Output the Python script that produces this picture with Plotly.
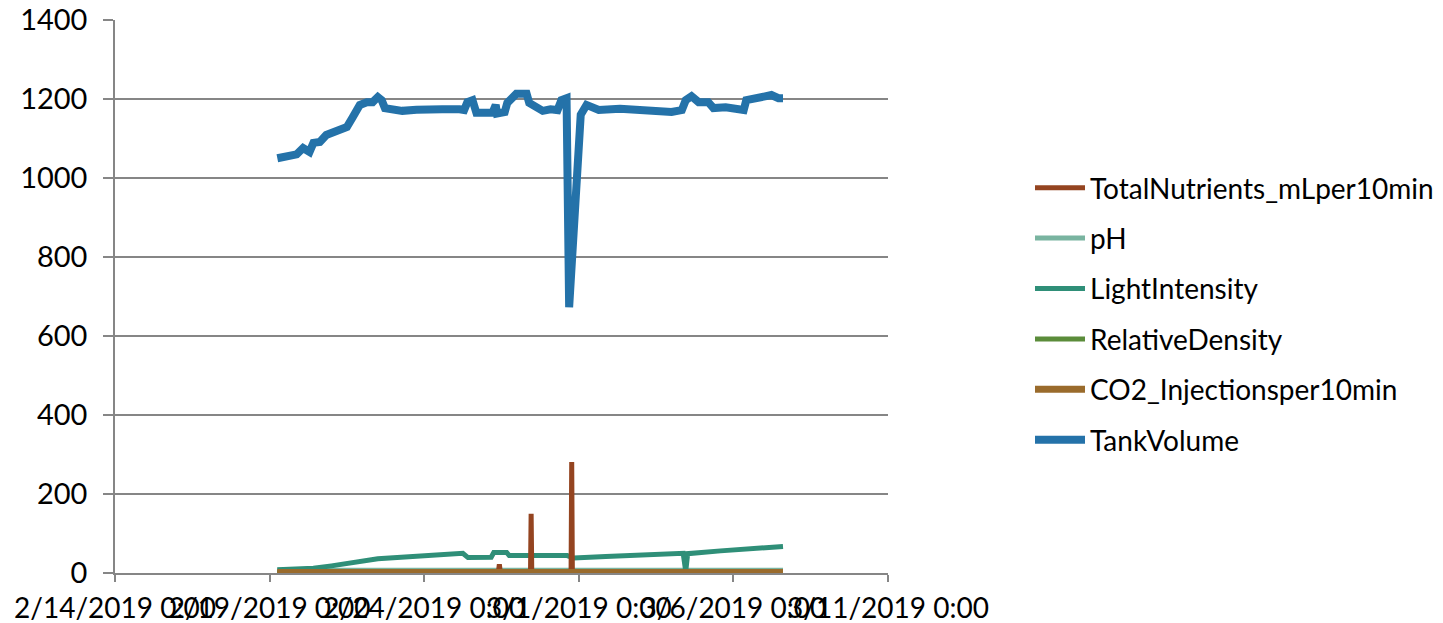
import plotly.graph_objects as go

# ---------------- data ----------------
tank_time = [
    "2019-02-19 06:00", "2019-02-19 11:00", "2019-02-19 16:00", "2019-02-19 21:00",
    "2019-02-20 02:00", "2019-02-20 07:00", "2019-02-20 10:00", "2019-02-20 15:00",
    "2019-02-20 20:00", "2019-02-21 01:00", "2019-02-21 06:30", "2019-02-21 12:00",
    "2019-02-21 16:30", "2019-02-21 22:00", "2019-02-22 03:30", "2019-02-22 08:00",
    "2019-02-22 12:00", "2019-02-22 15:00", "2019-02-22 17:30", "2019-02-22 23:30",
    "2019-02-23 07:00", "2019-02-23 18:00", "2019-02-24 02:00", "2019-02-24 14:00",
    "2019-02-25 03:30", "2019-02-25 07:00", "2019-02-25 09:30", "2019-02-25 13:30",
    "2019-02-25 16:30", "2019-02-25 23:00", "2019-02-26 05:00", "2019-02-26 07:30",
    "2019-02-26 08:30", "2019-02-26 14:30", "2019-02-26 16:30", "2019-02-26 23:30",
    "2019-02-27 07:30", "2019-02-27 09:30", "2019-02-27 15:00", "2019-02-27 20:00",
    "2019-02-28 02:00", "2019-02-28 07:30", "2019-02-28 10:30", "2019-02-28 14:30",
    "2019-02-28 16:30", "2019-03-01 01:30", "2019-03-01 06:00", "2019-03-01 15:30",
    "2019-03-02 08:00", "2019-03-03 01:00", "2019-03-03 14:00", "2019-03-04 00:00",
    "2019-03-04 08:00", "2019-03-04 11:00", "2019-03-04 15:30", "2019-03-04 21:00",
    "2019-03-05 04:30", "2019-03-05 08:30", "2019-03-05 18:00", "2019-03-06 04:00",
    "2019-03-06 08:00", "2019-03-06 10:00", "2019-03-06 19:30", "2019-03-07 05:30",
    "2019-03-07 11:00", "2019-03-07 14:30",
]
tank_volume = [
    1050, 1052, 1053, 1060,
    1076, 1066, 1089, 1091,
    1109, 1115, 1127, 1129,
    1154, 1185, 1192, 1192,
    1205, 1197, 1177, 1172,
    1170, 1173, 1172, 1174,
    1174, 1172, 1192, 1197,
    1165, 1167, 1165, 1185,
    1163, 1167, 1190, 1213,
    1213, 1190, 1177, 1170,
    1174, 1172, 1197, 1202,
    673, 1160, 1185, 1172,
    1175, 1172, 1170, 1167,
    1172, 1197, 1207, 1192,
    1192, 1177, 1179, 1177,
    1172, 1197, 1205, 1210,
    1202, 1202,
]

light_time = [
    "2019-02-19 06:00", "2019-02-20 10:00", "2019-02-21 00:00", "2019-02-22 12:00",
    "2019-02-25 06:00", "2019-02-25 10:00", "2019-02-26 04:00", "2019-02-26 06:00",
    "2019-02-26 16:00", "2019-02-26 18:00", "2019-02-28 15:00", "2019-02-28 20:00",
    "2019-03-01 21:00", "2019-03-04 09:00", "2019-03-04 11:00", "2019-03-04 12:30",
    "2019-03-05 14:00", "2019-03-07 14:30",
]
light_intensity = [
    8, 12, 18, 36,
    50, 39, 40, 52,
    52, 44, 44, 38,
    42, 50, 4, 49,
    56, 67,
]

nutr_time = [
    "2019-02-19 06:00", "2019-02-26 09:30", "2019-02-26 10:20", "2019-02-26 11:10",
    "2019-02-27 10:30", "2019-02-27 11:00", "2019-02-27 11:30",
    "2019-02-28 18:00", "2019-02-28 18:30", "2019-02-28 19:00", "2019-03-07 14:30",
]
total_nutrients = [0, 0, 22, 0, 0, 150, 0, 0, 281, 0, 0]

low_time = ["2019-02-19 06:00", "2019-02-25 00:00", "2019-03-01 00:00", "2019-03-07 14:30"]
ph_values = [7.0, 7.1, 7.0, 7.1]
relative_density = [1.0, 1.0, 1.0, 1.0]
co2_injections = [1.0, 1.5, 1.0, 1.5]

tick_vals = ["2019-02-14", "2019-02-19", "2019-02-24", "2019-03-01", "2019-03-06", "2019-03-11"]
tick_text = ["2/14/2019 0:00", "2/19/2019 0:00", "2/24/2019 0:00",
             "3/1/2019 0:00", "3/6/2019 0:00", "3/11/2019 0:00"]

# ---------------- figure ----------------
FONT = "Lato, 'DejaVu Sans', sans-serif"
GRID = "#868686"

fig = go.Figure()

def add(name, x, y, color, width, rank):
    fig.add_trace(go.Scatter(
        x=x, y=y, name=name, mode="lines",
        line=dict(color=color, width=width),
        legendrank=rank, legendgroup=name,
    ))

add("pH", low_time, ph_values, "#79B4A0", 5, 2)
add("LightIntensity", light_time, light_intensity, "#2F8F78", 5, 3)
add("TotalNutrients_mLper10min", nutr_time, total_nutrients, "#944420", 5, 1)
add("RelativeDensity", low_time, relative_density, "#5B8C3A", 5, 4)
add("CO2_Injectionsper10min", low_time, co2_injections, "#9A6B2C", 7, 5)
add("TankVolume", tank_time, tank_volume, "#2472A9", 8, 6)

fig.update_layout(
    width=1443, height=623,
    margin=dict(l=107, r=563, t=12, b=58, autoexpand=False),
    paper_bgcolor="white", plot_bgcolor="white",
    font=dict(family=FONT, size=26, color="black"),
    showlegend=True,
    legend=dict(
        xref="container", yref="container",
        x=1022 / 1443, xanchor="left",
        y=1 - 155 / 623, yanchor="top",
        font=dict(family=FONT, size=28, color="black"),
        itemwidth=50, tracegroupgap=11,
        bgcolor="rgba(0,0,0,0)",
    ),
    xaxis=dict(
        type="date",
        range=["2019-02-14", "2019-03-11"],
        tickmode="array", tickvals=tick_vals, ticktext=tick_text,
        tickangle=0, automargin=False, ticklabeloverflow="allow",
        showgrid=False, zeroline=False,
        showline=True, linecolor=GRID, linewidth=1.5,
        ticks="outside", ticklen=7, tickcolor=GRID, tickwidth=1.5,
        tickfont=dict(family=FONT, size=28, color="black"),
        ticklabelstandoff=3,
    ),
    yaxis=dict(
        range=[0, 1400], dtick=200, tick0=0, automargin=False,
        ticklabeloverflow="allow",
        showgrid=True, gridcolor=GRID, gridwidth=1.5,
        zeroline=False,
        showline=True, linecolor=GRID, linewidth=1.5,
        ticks="outside", ticklen=10, tickcolor=GRID, tickwidth=1.5,
        tickfont=dict(family=FONT, size=29, color="black"),
        ticklabelstandoff=10,
    ),
)

fig.write_html("out.html")
